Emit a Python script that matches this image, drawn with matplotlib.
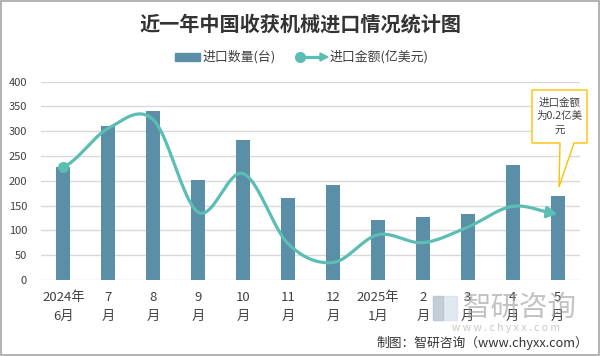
import numpy as np
import matplotlib
matplotlib.use("Agg")
import matplotlib.pyplot as plt
from matplotlib.patches import Rectangle, Polygon
from matplotlib.lines import Line2D

plt.rcParams['font.family'] = ['Noto Sans CJK SC', 'DejaVu Sans']

months = ["2024年\n6月", "7\n月", "8\n月", "9\n月", "10\n月", "11\n月", "12\n月",
          "2025年\n1月", "2\n月", "3\n月", "4\n月", "5\n月"]
qty = [227, 311, 341, 201, 282, 166, 191, 122, 127, 134, 232, 170]
amount = [0.342, 0.459, 0.485, 0.205, 0.322, 0.11, 0.053, 0.137, 0.113, 0.16, 0.223, 0.2]
yticks = [0, 50, 100, 150, 200, 250, 300, 350, 400]

BAR = '#5B8FA8'
LINE = '#5BBDB3'
TXT = '#404040'

W, H = 600, 356
fig = plt.figure(figsize=(6, 3.56), dpi=100)

def fx(px):
    return px / W
def fy(py):
    return 1 - py / H

ax = fig.add_axes([fx(41), fy(280), fx(580) - fx(41), fy(81.7) - fy(280)])
x = np.arange(len(qty))
ax.bar(x, qty, width=0.31, color=BAR, zorder=2)
ax.set_xlim(-0.5, len(qty) - 0.5)
ax.set_ylim(0, 400)
ax.set_yticks(yticks)
ax.set_yticklabels([str(v) for v in yticks], fontsize=8, color=TXT)
ax.set_xticks(x)
ax.set_xticklabels(months, fontsize=9.5, color=TXT, linespacing=1.55)
ax.tick_params(axis='both', length=0)
ax.tick_params(axis='y', pad=10)
ax.tick_params(axis='x', pad=8)
ax.grid(axis='y', color='#d9d9d9', linewidth=1, zorder=0)
for s in ax.spines.values():
    s.set_visible(False)

ax2 = ax.twinx()
ax2.set_ylim(0, 0.6)
ax2.axis('off')

# Catmull-Rom smoothing of the amount series
P = np.array(amount)
n = len(P)
xs, ys = [], []
for i in range(n - 1):
    p1 = P[i]
    p2 = P[i + 1]
    m1 = (P[i + 1] - P[i - 1]) / 2 if i > 0 else (p2 - p1) / 2
    m2 = (P[i + 2] - P[i]) / 2 if i + 2 < n else (p2 - p1) / 2
    t = np.linspace(0, 1, 40)
    h00 = 2 * t**3 - 3 * t**2 + 1
    h10 = t**3 - 2 * t**2 + t
    h01 = -2 * t**3 + 3 * t**2
    h11 = t**3 - t**2
    yy = h00 * p1 + h10 * m1 + h01 * p2 + h11 * m2
    xs.extend(i + t)
    ys.extend(yy)
xs = np.array(xs); ys = np.array(ys)
ax2.plot(xs[:-3], ys[:-3], color=LINE, linewidth=2.3, solid_capstyle='round', zorder=3)
ax2.annotate('', xy=(xs[-1], ys[-1]), xytext=(xs[-8], ys[-8]),
             arrowprops=dict(arrowstyle='-|>,head_length=0.6,head_width=0.33', color=LINE, lw=2.3,
                             shrinkA=0, shrinkB=0), zorder=4)
ax2.plot([0], [amount[0]], 'o', color=LINE, markersize=7, zorder=4)

# Title
fig.text(0.5, fy(24), "近一年中国收获机械进口情况统计图", ha='center', va='center',
         fontsize=14.5, fontweight='bold', color='#333333')

# Legend
fig.patches.append(Rectangle((fx(175), fy(61)), fx(200) - fx(175), fy(53) - fy(61),
                             transform=fig.transFigure, color=BAR))
fig.text(fx(203), fy(57), "进口数量(台)", ha='left', va='center', fontsize=9.3, color=TXT)
fig.lines.append(Line2D([fx(300), fx(322)], [fy(57), fy(57)], transform=fig.transFigure,
                        color=LINE, linewidth=2.3))
fig.lines.append(Line2D([fx(300)], [fy(57)], transform=fig.transFigure, marker='o',
                        color=LINE, markersize=7))
fig.patches.append(Polygon([[fx(320), fy(53)], [fx(328), fy(57)], [fx(320), fy(61)]],
                           closed=True, transform=fig.transFigure, color=LINE))
fig.text(fx(330), fy(57), "进口金额(亿美元)", ha='left', va='center', fontsize=9.3, color=TXT)

# Callout
box = Polygon([[fx(532), fy(90)], [fx(587), fy(90)], [fx(587), fy(143)], [fx(574), fy(143)],
               [fx(559), fy(187)], [fx(560), fy(143)], [fx(532), fy(143)]],
              closed=True, transform=fig.transFigure, facecolor='white', edgecolor='#FFC000',
              linewidth=1, zorder=10)
fig.patches.append(box)
fig.text(fx(559.5), fy(116), "进口金额\n为0.2亿美\n元", ha='center', va='center', fontsize=7.6,
         color=TXT, linespacing=1.45, zorder=11)

# Watermark
fig.patches.append(Rectangle((fx(433), fy(320)), fx(457) - fx(433), fy(296) - fy(320),
                             transform=fig.transFigure, color='#d3dfea', alpha=0.7))
fig.patches.append(Rectangle((fx(433), fy(320)), fx(443) - fx(433), fy(296) - fy(320),
                             transform=fig.transFigure, color='#b9c3cc', alpha=0.7))
fig.text(fx(463), fy(308), "智研咨询", ha='left', va='center', fontsize=20.5, color='#9a9a9a',
         alpha=0.6)
fig.text(fx(506), fy(328), "w w w . c h y x x . c o m", ha='center', va='center', fontsize=7.5,
         color='#b0b0b0', alpha=0.7)

# Source
fig.text(fx(588), fy(343), "制图：智研咨询（www.chyxx.com）", ha='right', va='center',
         fontsize=9.2, color='#333333')

# Border
fig.patches.append(Rectangle((0.001, 0.002), 0.997, 0.995, transform=fig.transFigure,
                             fill=False, edgecolor='#a6a6a6', linewidth=1.2))

fig.savefig("out.png", dpi=100)
